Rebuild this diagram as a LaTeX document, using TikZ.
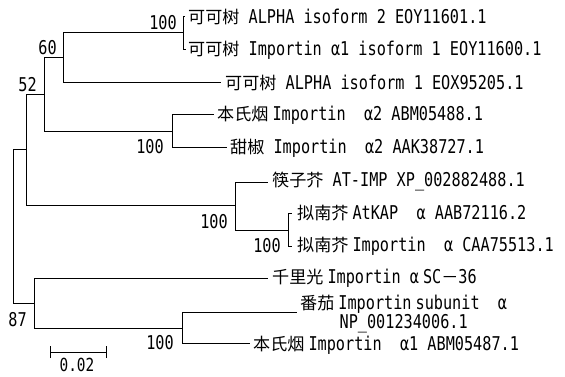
\documentclass[tikz,border=0pt]{standalone}
\usepackage{fontspec}
\setmainfont[FakeStretch=0.8]{DejaVu Sans Mono}
\newfontfamily\cjk[Scale=0.9]{Noto Sans CJK SC}
\newcommand{\zh}[1]{{\cjk #1}}
\newcommand{\hs}{\hspace{4pt}}
\begin{document}
\begin{tikzpicture}[x=1pt,y=-1pt,
  branch/.style={line width=1pt,black},
  taxon/.style={anchor=west,inner sep=0pt,font=\fontsize{19}{18}\selectfont},
  boot/.style={anchor=east,inner sep=0pt,font=\fontsize{19}{18}\selectfont},
  scalelbl/.style={anchor=center,inner sep=0pt,font=\fontsize{18}{18}\selectfont}]
\fill[white] (0,0) rectangle (565,377);
\useasboundingbox (0,0) rectangle (565,377);
% internal nodes
\coordinate (R) at (13,226.5);
\coordinate (A) at (26,150);
\coordinate (B) at (44,95);
\coordinate (C) at (63,58);
\coordinate (D) at (183.5,33);
\coordinate (E) at (172,132);
\coordinate (F) at (235,205);
\coordinate (G) at (288,230);
\coordinate (H) at (34,303);
\coordinate (I) at (182,328);
% tips
\coordinate (t1) at (185,17);
\coordinate (t2) at (185.5,50);
\coordinate (t3) at (221,83);
\coordinate (t4) at (214,115);
\coordinate (t5) at (227,148);
\coordinate (t6) at (268,182);
\coordinate (t7) at (292,213);
\coordinate (t8) at (292,246);
\coordinate (t9) at (268,278);
\coordinate (t10) at (297,312);
\coordinate (t11) at (250,343);
% branches
\draw[branch] (R) |- (A);
\draw[branch] (R) |- (H);
\draw[branch] (A) |- (B);
\draw[branch] (A) |- (F);
\draw[branch] (B) |- (C);
\draw[branch] (B) |- (E);
\draw[branch] (C) |- (D);
\draw[branch] (C) |- (t3);
\draw[branch] (D) |- (t1);
\draw[branch] (D) |- (t2);
\draw[branch] (E) |- (t4);
\draw[branch] (E) |- (t5);
\draw[branch] (F) |- (t6);
\draw[branch] (F) |- (G);
\draw[branch] (G) |- (t7);
\draw[branch] (G) |- (t8);
\draw[branch] (H) |- (t9);
\draw[branch] (H) |- (I);
\draw[branch] (I) |- (t10);
\draw[branch] (I) |- (t11);
% taxon labels
\node[taxon] (L1) at (188,17) {\zh{可可树} ALPHA isoform 2 EOY11601.1};
\node[taxon] (L2) at (188,50) {\zh{可可树} Importin α1 isoform 1 EOY11600.1};
\node[taxon] (L3) at (225,83) {\zh{可可树} ALPHA isoform 1 EOX95205.1};
\node[taxon] (L4) at (217,115) {\zh{本氏烟}\hs Importin~ α2 ABM05488.1};
\node[taxon] (L5) at (230,148) {\zh{甜椒} Importin~ α2 AAK38727.1};
\node[taxon] (L6) at (272,182) {\zh{筷子芥} AT-IMP XP\_002882488.1};
\node[taxon] (L7) at (297,213) {\zh{拟南芥}\hs AtKAP~ α AAB72116.2};
\node[taxon] (L8) at (297,246) {\zh{拟南芥}\hs Importin~ α CAA75513.1};
\node[taxon] (L9) at (272,278) {\zh{千里光}\hs Importin α\hs SC\zh{－}36};
\node[taxon,align=center] (L10) at (300,314) {\zh{番茄}\hs Importin\hs subunit~ α\\NP\_001234006.1};
\node[taxon] (L11) at (253,345) {\zh{本氏烟}\hs Importin~ α1 ABM05487.1};
% bootstrap values
\node[boot] (bD) at (177,23) {100};
\node[boot] (bC) at (57,48) {60};
\node[boot] (bB) at (37,85) {52};
\node[boot] (bE) at (164,147) {100};
\node[boot] (bF) at (228,222) {100};
\node[boot] (bG) at (281,246) {100};
\node[boot] (bH) at (27,320) {87};
\node[boot] (bI) at (174,343) {100};
% scale bar
\coordinate (s1) at (50,352);
\coordinate (s2) at (106,352);
\draw[branch] (s1) -- (s2);
\draw[branch] ([yshift=-6pt]s1) -- ([yshift=6pt]s1);
\draw[branch] ([yshift=-6pt]s2) -- ([yshift=6pt]s2);
\node[scalelbl] (sl) at (77,365) {0.02};
\end{tikzpicture}
\end{document}
